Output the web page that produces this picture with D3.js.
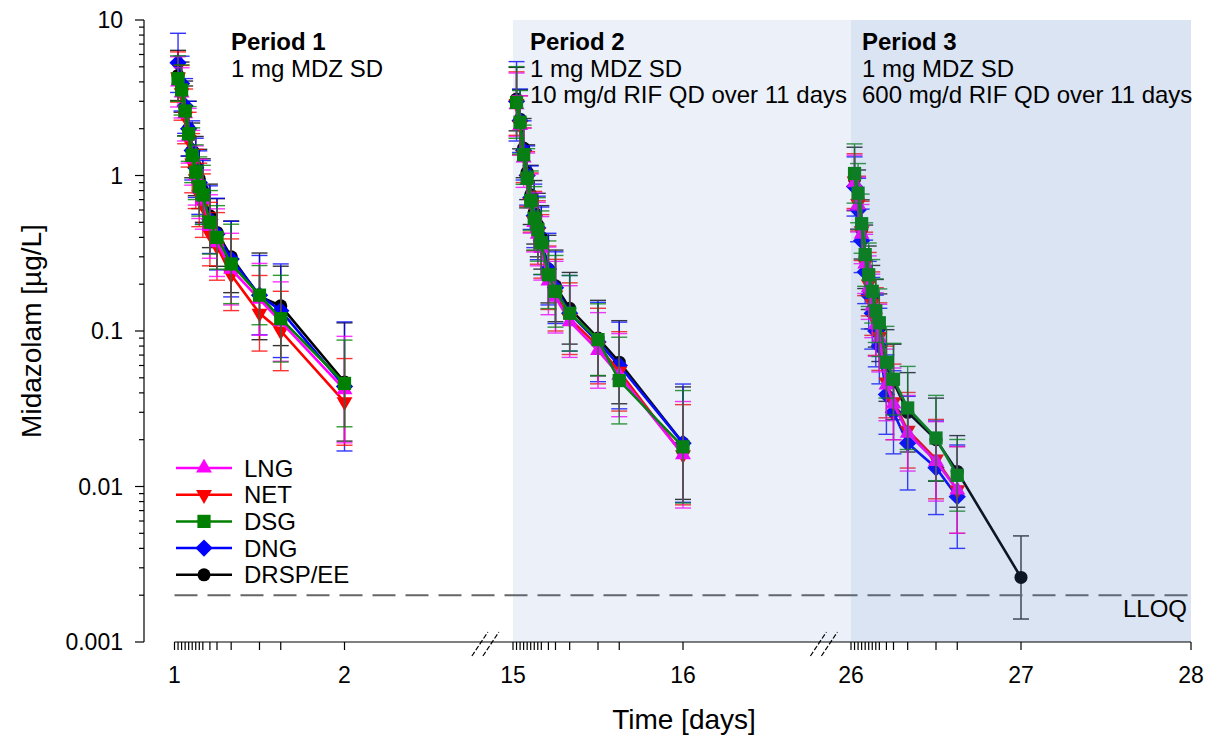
<!DOCTYPE html>
<html>
<head>
<meta charset="utf-8">
<script src="https://cdn.jsdelivr.net/npm/d3@7"></script>
<style>
  body { margin: 0; background: #fff; }
  svg { display: block; font-family: Arial, "Liberation Sans", sans-serif; }
</style>
</head>
<body>
<div id="chart"></div>
<script>
// sampling times (hours after the midazolam dose) and axis ticks
const sampleHours = [0.5, 1, 1.5, 2, 2.5, 3, 3.5, 4, 5, 6, 8, 12, 15, 24];
const tickHours = [0, 0.5, 1, 1.5, 2, 2.5, 3, 3.5, 4, 5, 6, 8, 12, 15, 24];
const periodStartDay = [1, 15, 26];
const dayTicks = [1, 2, 15, 16, 26, 27, 28];
const yTicks = [10, 1, 0.1, 0.01, 0.001];
const yTickLabels = ["10", "1", "0.1", "0.01", "0.001"];
const groups = ["LNG", "NET", "DSG", "DNG", "DRSP/EE"];
const drawOrder = ["DRSP/EE", "DNG", "NET", "LNG", "DSG"];
const lloq = 0.002;

// geometric mean concentrations [µg/L], period 1 / 2 / 3
const lngP1 = [4.0, 3.4, 2.5, 1.8, 1.3, 1.0, 0.82, 0.7, 0.47, 0.37, 0.25, 0.16, 0.115, 0.042];
const netP1 = [4.3, 3.4, 2.4, 1.7, 1.2, 0.95, 0.75, 0.64, 0.42, 0.35, 0.23, 0.13, 0.1, 0.035];
const dsgP1 = [4.2, 3.55, 2.6, 1.85, 1.35, 1.05, 0.85, 0.75, 0.5, 0.4, 0.27, 0.17, 0.12, 0.046];
const dngP1 = [5.3, 3.9, 2.8, 2.0, 1.45, 1.12, 0.9, 0.78, 0.52, 0.42, 0.29, 0.17, 0.135, 0.044];
const drspP1 = [4.4, 3.7, 2.7, 2.0, 1.45, 1.15, 0.95, 0.8, 0.55, 0.43, 0.3, 0.167, 0.145, 0.047];

const lngP2 = [2.85, 2.1, 1.3, 0.93, 0.66, 0.5, 0.42, 0.34, 0.21, 0.165, 0.115, 0.075, 0.052, 0.016];
const netP2 = [2.9, 2.1, 1.35, 0.95, 0.67, 0.51, 0.43, 0.35, 0.22, 0.17, 0.12, 0.08, 0.055, 0.016];
const dsgP2 = [2.95, 2.2, 1.36, 0.96, 0.69, 0.53, 0.45, 0.37, 0.23, 0.18, 0.13, 0.088, 0.048, 0.018];
const dngP2 = [3.0, 2.25, 1.45, 1.0, 0.72, 0.55, 0.46, 0.38, 0.25, 0.19, 0.13, 0.085, 0.06, 0.019];
const drspP2 = [3.1, 2.3, 1.5, 1.05, 0.75, 0.58, 0.48, 0.4, 0.25, 0.195, 0.14, 0.09, 0.063, 0.019];

const lngP3 = [0.9, 0.65, 0.42, 0.27, 0.19, 0.145, 0.11, 0.09, 0.045, 0.034, 0.022, 0.0145, 0.0095];
const netP3 = [0.92, 0.66, 0.44, 0.27, 0.2, 0.15, 0.115, 0.092, 0.047, 0.035, 0.023, 0.015, 0.0095];
const dsgP3 = [1.03, 0.77, 0.49, 0.31, 0.23, 0.18, 0.135, 0.113, 0.063, 0.049, 0.032, 0.0205, 0.0118];
const dngP3 = [0.85, 0.6, 0.38, 0.24, 0.17, 0.13, 0.1, 0.08, 0.039, 0.03, 0.019, 0.0132, 0.0086];
const drspP3 = [0.95, 0.7, 0.45, 0.3, 0.22, 0.165, 0.13, 0.105, 0.06, 0.047, 0.03, 0.02, 0.0125, 0.0026];

// geometric SD factors for the error bars
const lngGsdP1 = [1.45, 1.45, 1.5, 1.5, 1.5, 1.55, 1.55, 1.55, 1.6, 1.65, 1.7, 1.7, 1.8, 2.2];
const netGsdP1 = [1.45, 1.5, 1.5, 1.5, 1.55, 1.55, 1.6, 1.6, 1.6, 1.65, 1.7, 1.75, 1.8, 1.9];
const dsgGsdP1 = [1.4, 1.45, 1.45, 1.5, 1.5, 1.5, 1.55, 1.55, 1.6, 1.6, 1.8, 1.55, 1.9, 1.9];
const dngGsdP1 = [1.55, 1.5, 1.5, 1.5, 1.55, 1.55, 1.6, 1.6, 1.65, 1.7, 1.75, 1.8, 2.0, 2.6];
const drspGsdP1 = [1.45, 1.45, 1.5, 1.5, 1.5, 1.55, 1.55, 1.6, 1.6, 1.65, 1.7, 1.9, 1.8, 2.4];

const lngGsdP2 = [1.6, 1.55, 1.55, 1.5, 1.55, 1.55, 1.6, 1.6, 1.65, 1.7, 1.7, 1.75, 1.85, 2.2];
const netGsdP2 = [1.6, 1.55, 1.5, 1.5, 1.55, 1.55, 1.6, 1.6, 1.6, 1.7, 1.7, 1.75, 1.8, 2.1];
const dsgGsdP2 = [1.7, 1.6, 1.55, 1.55, 1.55, 1.6, 1.6, 1.6, 1.65, 1.7, 1.75, 1.7, 1.9, 2.3];
const dngGsdP2 = [1.8, 1.6, 1.55, 1.55, 1.6, 1.6, 1.6, 1.65, 1.7, 1.7, 1.75, 1.8, 1.9, 2.4];
const drspGsdP2 = [1.6, 1.55, 1.55, 1.5, 1.55, 1.6, 1.6, 1.6, 1.65, 1.7, 1.7, 1.75, 1.85, 2.3];

const lngGsdP3 = [1.5, 1.5, 1.55, 1.55, 1.6, 1.6, 1.6, 1.65, 1.7, 1.7, 1.75, 1.8, 1.9];
const netGsdP3 = [1.5, 1.5, 1.55, 1.6, 1.6, 1.6, 1.65, 1.65, 1.7, 1.75, 1.75, 1.8, 1.9];
const dsgGsdP3 = [1.55, 1.55, 1.55, 1.6, 1.6, 1.6, 1.6, 1.65, 1.7, 1.7, 1.85, 1.88, 1.7];
const dngGsdP3 = [1.55, 1.6, 1.6, 1.6, 1.65, 1.7, 1.7, 1.75, 1.8, 1.85, 2.0, 2.0, 2.15];
const drspGsdP3 = [1.6, 1.55, 1.55, 1.6, 1.6, 1.6, 1.65, 1.65, 1.7, 1.75, 1.8, 1.85, 1.7, 1.85];

const seriesValues = {
  "LNG": [lngP1, lngP2, lngP3],
  "NET": [netP1, netP2, netP3],
  "DSG": [dsgP1, dsgP2, dsgP3],
  "DNG": [dngP1, dngP2, dngP3],
  "DRSP/EE": [drspP1, drspP2, drspP3]
};
const seriesGsd = {
  "LNG": [lngGsdP1, lngGsdP2, lngGsdP3],
  "NET": [netGsdP1, netGsdP2, netGsdP3],
  "DSG": [dsgGsdP1, dsgGsdP2, dsgGsdP3],
  "DNG": [dngGsdP1, dngGsdP2, dngGsdP3],
  "DRSP/EE": [drspGsdP1, drspGsdP2, drspGsdP3]
};

const colors = { "LNG": "#ff00ff", "NET": "#ff0000", "DSG": "#008000", "DNG": "#0000ff", "DRSP/EE": "#000000" };
const symbols = {
  "LNG": { type: d3.symbolTriangle, size: 110, rotate: 0 },
  "NET": { type: d3.symbolTriangle, size: 110, rotate: 180 },
  "DSG": { type: d3.symbolSquare, size: 175, rotate: 0 },
  "DNG": { type: d3.symbolSquare, size: 150, rotate: 45 },
  "DRSP/EE": { type: d3.symbolCircle, size: 135, rotate: 0 }
};

const W = 1214, H = 747;
const plotTop = 20, plotBottom = 642, yAxisX = 144;

const svg = d3.select("#chart").append("svg")
  .attr("width", W)
  .attr("height", H);

// broken time axis: three 170 px/day segments
const x = d3.scaleLinear()
  .domain([1, 2.82, 15, 16.82, 26, 28])
  .range([174.5, 483.9, 513, 822.4, 851, 1191]);

const y = d3.scaleLog()
  .domain([0.001, 10])
  .range([plotBottom, plotTop]);

// data
const dataLayer = svg.append("g");
const capHalf = 8;

drawOrder.forEach(name => {
  const col = colors[name];
  const sym = symbols[name];
  seriesValues[name].forEach((vals, p) => {
    const pts = vals.map((v, i) => ({
      day: periodStartDay[p] + sampleHours[i] / 24,
      v: v,
      g: seriesGsd[name][p][i]
    }));

    const g = dataLayer.append("g");

    // error bars
    const eb = g.selectAll(".eb")
      .data(pts)
      .enter()
      .append("g")
      .attr("stroke", col)
      .attr("stroke-width", 1.4)
      .attr("opacity", 0.8);
    eb.append("line")
      .attr("x1", d => x(d.day)).attr("x2", d => x(d.day))
      .attr("y1", d => y(d.v * d.g)).attr("y2", d => y(d.v / d.g));
    eb.append("line")
      .attr("x1", d => x(d.day) - capHalf).attr("x2", d => x(d.day) + capHalf)
      .attr("y1", d => y(d.v * d.g)).attr("y2", d => y(d.v * d.g));
    eb.append("line")
      .attr("x1", d => x(d.day) - capHalf).attr("x2", d => x(d.day) + capHalf)
      .attr("y1", d => y(d.v / d.g)).attr("y2", d => y(d.v / d.g));

    const line = d3.line()
      .x(d => x(d.day))
      .y(d => y(d.v));

    g.append("path")
      .datum(pts)
      .attr("fill", "none")
      .attr("stroke", col)
      .attr("stroke-width", 2.6)
      .attr("d", line);

    g.selectAll(".mk")
      .data(pts)
      .enter()
      .append("path")
      .attr("d", d3.symbol().type(sym.type).size(sym.size)())
      .attr("transform", d => `translate(${x(d.day)},${y(d.v)}) rotate(${sym.rotate})`)
      .attr("fill", col);
  });
});

// LLOQ line
svg.append("line")
  .attr("x1", 174.5).attr("x2", x(28))
  .attr("y1", y(lloq)).attr("y2", y(lloq))
  .attr("stroke", "#666")
  .attr("stroke-width", 2)
  .attr("stroke-dasharray", "23,10");

// period shading, translucent on top of the curves
svg.append("rect")
  .attr("x", x(15)).attr("y", plotTop)
  .attr("width", x(28) - x(15)).attr("height", plotBottom - plotTop)
  .attr("fill", "#4472c4").attr("opacity", 0.1);
svg.append("rect")
  .attr("x", x(26)).attr("y", plotTop)
  .attr("width", x(28) - x(26)).attr("height", plotBottom - plotTop)
  .attr("fill", "#4472c4").attr("opacity", 0.1);

svg.append("text")
  .attr("x", x(28) - 4).attr("y", 617)
  .attr("text-anchor", "end")
  .style("font-size", "24px")
  .text("LLOQ");

// y axis
const yAxis = svg.append("g").attr("stroke", "#000").attr("stroke-width", 1.2);
yAxis.append("line")
  .attr("x1", yAxisX).attr("x2", yAxisX)
  .attr("y1", plotTop).attr("y2", plotBottom);
const minorY = [];
[0.001, 0.01, 0.1, 1].forEach(dec => {
  for (let k = 2; k <= 9; k++) minorY.push(dec * k);
});
yAxis.selectAll(".ymin")
  .data(minorY)
  .enter()
  .append("line")
  .attr("x1", yAxisX - 5).attr("x2", yAxisX)
  .attr("y1", d => y(d)).attr("y2", d => y(d));
yAxis.selectAll(".ymaj")
  .data(yTicks)
  .enter()
  .append("line")
  .attr("x1", yAxisX - 9).attr("x2", yAxisX)
  .attr("y1", d => y(d)).attr("y2", d => y(d));
svg.selectAll(".ylab")
  .data(yTicks)
  .enter()
  .append("text")
  .attr("x", yAxisX - 21)
  .attr("y", d => y(d))
  .attr("dy", "0.36em")
  .attr("text-anchor", "end")
  .style("font-size", "23px")
  .text((d, i) => yTickLabels[i]);

// x axis
const xAxis = svg.append("g").attr("stroke", "#000").attr("stroke-width", 1.2);
xAxis.append("line")
  .attr("x1", x(1)).attr("x2", x(28))
  .attr("y1", plotBottom).attr("y2", plotBottom);
const xTickDays = [];
periodStartDay.forEach(s => tickHours.forEach(h => xTickDays.push(s + h / 24)));
xTickDays.push(28);
xAxis.selectAll(".xt")
  .data(xTickDays)
  .enter()
  .append("line")
  .attr("x1", d => x(d)).attr("x2", d => x(d))
  .attr("y1", plotBottom).attr("y2", plotBottom + 8);

// axis break marks
[x(2.82) + 1, x(16.82) + 1].forEach(cx => {
  [-5, 6].forEach(off => {
    svg.append("line")
      .attr("x1", cx + off - 8).attr("y1", plotBottom + 14)
      .attr("x2", cx + off + 8).attr("y2", plotBottom - 10)
      .attr("stroke", "#000")
      .attr("stroke-width", 1.2)
      .attr("stroke-dasharray", "5,2");
  });
});

svg.selectAll(".xlab")
  .data(dayTicks)
  .enter()
  .append("text")
  .attr("x", d => x(d))
  .attr("y", 683)
  .attr("text-anchor", "middle")
  .style("font-size", "23px")
  .text(d => d);

// axis titles
svg.append("text")
  .attr("x", 684).attr("y", 729)
  .attr("text-anchor", "middle")
  .style("font-size", "28px")
  .text("Time [days]");
svg.append("text")
  .attr("transform", "translate(41,331) rotate(-90)")
  .attr("text-anchor", "middle")
  .style("font-size", "28px")
  .text("Midazolam [µg/L]");

// period annotations
const periodNotes = [
  { x: 231, lines: ["Period 1", "1 mg MDZ SD"] },
  { x: 530, lines: ["Period 2", "1 mg MDZ SD", "10 mg/d RIF QD over 11 days"] },
  { x: 862, lines: ["Period 3", "1 mg MDZ SD", "600 mg/d RIF QD over 11 days"] }
];
periodNotes.forEach(p => {
  p.lines.forEach((t, i) => {
    svg.append("text")
      .attr("x", p.x)
      .attr("y", 50 + i * 26.7)
      .style("font-size", "24px")
      .style("font-weight", i === 0 ? "bold" : "normal")
      .text(t);
  });
});

// legend
const legend = svg.append("g");
groups.forEach((name, i) => {
  const ly = 468 + i * 26.7;
  const sym = symbols[name];
  legend.append("line")
    .attr("x1", 176).attr("x2", 232)
    .attr("y1", ly).attr("y2", ly)
    .attr("stroke", colors[name])
    .attr("stroke-width", 2.5);
  legend.append("path")
    .attr("d", d3.symbol().type(sym.type).size(sym.size)())
    .attr("transform", `translate(204,${ly}) rotate(${sym.rotate})`)
    .attr("fill", colors[name]);
  legend.append("text")
    .attr("x", 244).attr("y", ly + 8.5)
    .style("font-size", "24px")
    .text(name);
});
</script>
</body>
</html>
